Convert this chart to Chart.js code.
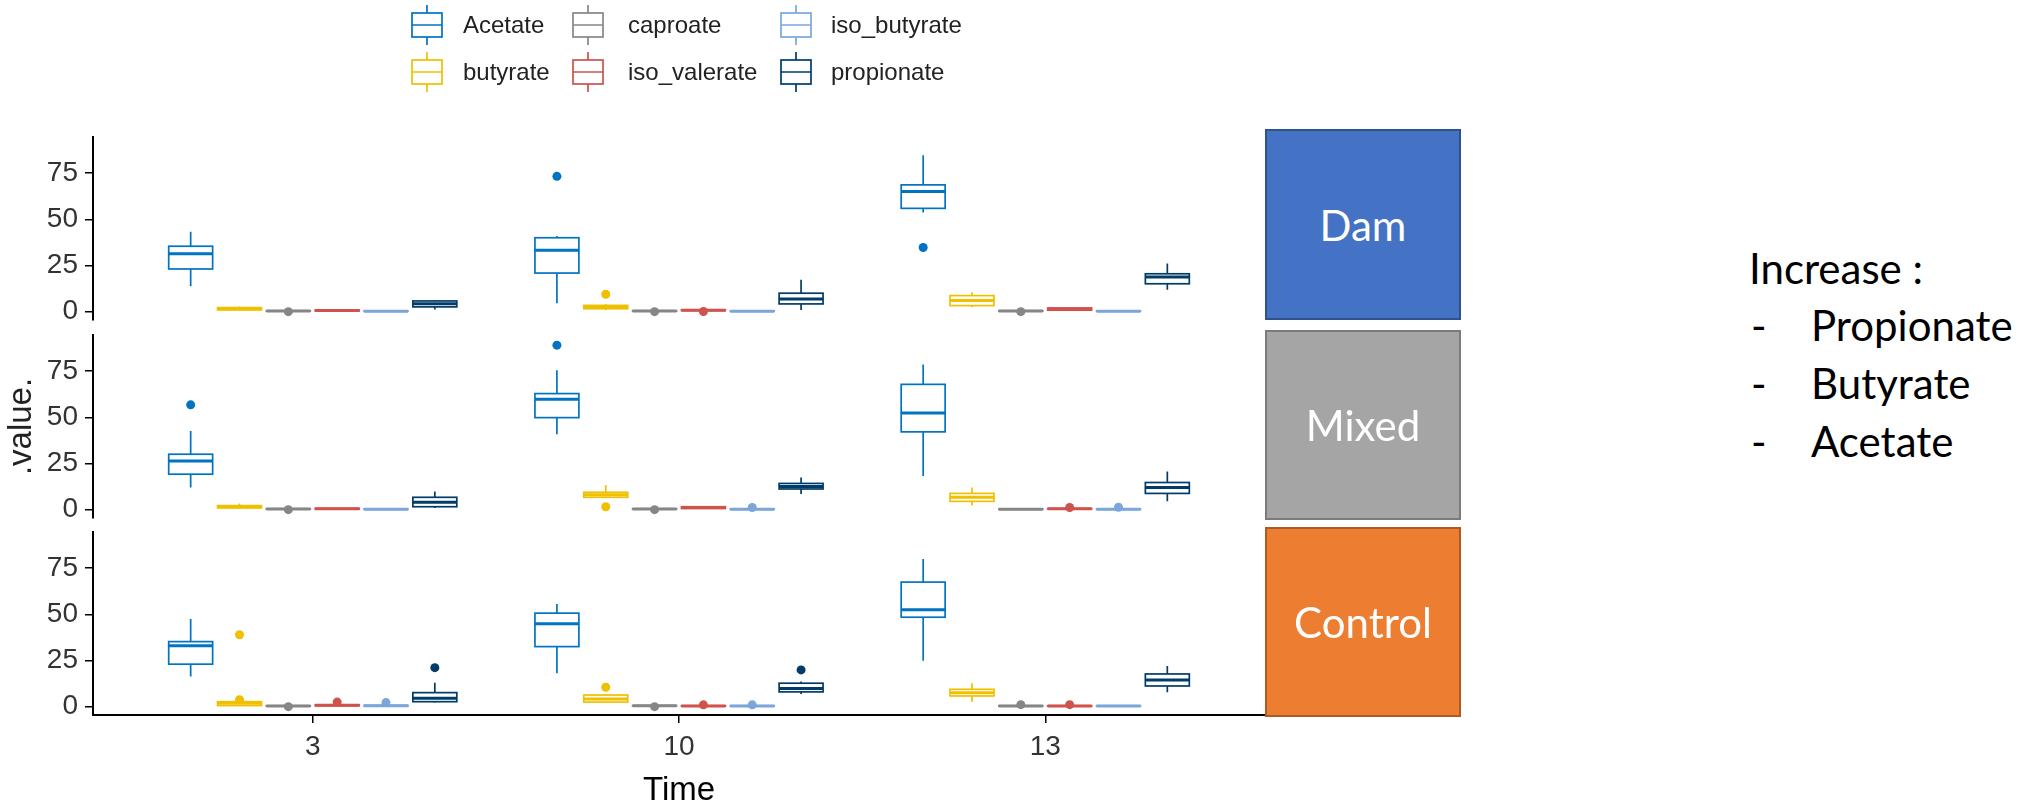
<!DOCTYPE html>
<html>
<head>
<meta charset="utf-8">
<script src="https://cdn.jsdelivr.net/npm/chart.js@4.4.1/dist/chart.umd.min.js"></script>
<style>
  html, body { margin: 0; padding: 0; background: #fff; }
  body { width: 2028px; height: 807px; position: relative; overflow: hidden; }
  canvas { position: absolute; left: 0; }
  .strip { position: absolute; left: 1265px; width: 196px; box-sizing: border-box; border: 2.5px solid;
           color: #fff; font-family: Lato, "Open Sans", sans-serif; font-size: 42px;
           display: flex; align-items: center; justify-content: center; }
  .note { position: absolute; font-family: Lato, "Open Sans", sans-serif; font-size: 42px; line-height: 42px;
          white-space: nowrap; color: #000; }
</style>
</head>
<body>
<canvas id="pDam" width="1280" height="344" style="top:0px"></canvas>
<canvas id="pMixed" width="1280" height="231" style="top:311px"></canvas>
<canvas id="pControl" width="1280" height="299" style="top:508px"></canvas>

<div class="strip" style="top:129px;height:191px;background:#4472C4;border-color:#2F528F">Dam</div>
<div class="strip" style="top:330px;height:190px;background:#A5A5A5;border-color:#7B7B7B">Mixed</div>
<div class="strip" style="top:527px;height:190px;background:#ED7D31;border-color:#AE5A21">Control</div>

<div class="note" style="left:1749px;top:247px">Increase :</div>
<div class="note" style="left:1751px;top:304px">-</div><div class="note" style="left:1811px;top:304px">Propionate</div>
<div class="note" style="left:1751px;top:362px">-</div><div class="note" style="left:1811px;top:362px">Butyrate</div>
<div class="note" style="left:1751px;top:420px">-</div><div class="note" style="left:1811px;top:420px">Acetate</div>

<script>
// ---- data ----
const times = ['3', '10', '13'];
const acids = ['Acetate', 'butyrate', 'caproate', 'iso_valerate', 'iso_butyrate', 'propionate'];
const acidColors = ['#0073C2', '#EFC000', '#868686', '#CD534C', '#7AA6DC', '#003C67'];
const yTicks = [0, 25, 50, 75];

// per time point, per acid: [lower whisker, Q1, median, Q3, upper whisker]
const damBoxes = [
  [[13.8, 23.1, 31.4, 35.4, 43.2], [0.6, 1.0, 1.5, 2.2, 2.8], [0.2, 0.3, 0.4, 0.5, 0.7], [0.2, 0.4, 0.6, 0.9, 1.1], [0.1, 0.2, 0.3, 0.4, 0.5], [1.2, 2.6, 4.3, 5.8, 6.2]],
  [[4.5, 20.9, 33.2, 40.0, 40.9], [0.8, 1.6, 2.5, 3.4, 4.0], [0.2, 0.3, 0.4, 0.5, 0.7], [0.4, 0.6, 0.8, 1.0, 1.2], [0.1, 0.2, 0.3, 0.4, 0.5], [0.9, 4.2, 6.9, 10.0, 17.3]],
  [[53.6, 55.9, 65.0, 68.6, 84.6], [2.4, 3.3, 6.0, 8.7, 10.5], [0.2, 0.3, 0.4, 0.5, 0.7], [0.6, 0.8, 1.4, 2.0, 2.3], [0.1, 0.2, 0.3, 0.4, 0.5], [11.8, 15.1, 18.7, 20.5, 26.0]]
];
const mixedBoxes = [
  [[12.0, 19.2, 26.4, 30.0, 42.6], [0.8, 1.0, 1.5, 2.2, 3.4], [0.2, 0.3, 0.4, 0.5, 0.7], [0.2, 0.3, 0.5, 0.7, 0.9], [0.1, 0.2, 0.3, 0.4, 0.5], [0.9, 1.6, 4.0, 6.7, 9.9]],
  [[40.8, 49.8, 59.7, 62.8, 75.4], [6.2, 6.7, 8.1, 9.4, 13.3], [0.2, 0.3, 0.4, 0.5, 0.7], [0.5, 0.7, 1.1, 1.6, 1.8], [0.1, 0.2, 0.3, 0.4, 0.5], [8.5, 11.2, 12.6, 14.2, 17.4]],
  [[18.2, 42.1, 52.3, 67.8, 78.6], [2.2, 4.5, 6.7, 8.8, 12.0], [0.1, 0.2, 0.3, 0.4, 0.5], [0.3, 0.4, 0.5, 0.6, 0.7], [0.1, 0.2, 0.3, 0.4, 0.5], [4.5, 8.8, 12.0, 14.7, 20.7]]
];
const controlBoxes = [
  [[16.3, 23.0, 32.9, 35.2, 47.4], [0.4, 0.6, 1.8, 2.7, 2.9], [0.2, 0.3, 0.4, 0.5, 0.7], [0.3, 0.5, 0.8, 1.0, 1.2], [0.2, 0.3, 0.5, 0.7, 0.9], [2.2, 2.7, 4.5, 7.6, 13.0]],
  [[18.1, 32.5, 44.8, 50.6, 55.5], [2.0, 2.5, 4.2, 6.3, 6.5], [0.3, 0.4, 0.5, 0.6, 0.8], [0.2, 0.3, 0.4, 0.5, 0.6], [0.2, 0.3, 0.4, 0.5, 0.6], [6.9, 8.0, 9.9, 12.7, 13.6]],
  [[24.9, 48.4, 52.4, 67.4, 79.9], [2.7, 5.8, 7.6, 9.4, 12.7], [0.2, 0.3, 0.4, 0.5, 0.7], [0.2, 0.3, 0.4, 0.5, 0.7], [0.2, 0.3, 0.4, 0.5, 0.7], [7.8, 11.2, 14.5, 17.7, 22.0]]
];

// outliers: [time index, acid index, value]
const damOutliers = [[0, 2, 0.0], [1, 0, 73.2], [1, 1, 9.4], [1, 2, 0.0], [1, 3, 0.1], [2, 0, 34.7], [2, 2, 0.0]];
const mixedOutliers = [[0, 0, 56.7], [0, 2, 0.0], [1, 0, 89.0], [1, 1, 1.6], [1, 2, 0.0], [1, 4, 1.2], [2, 3, 1.2], [2, 4, 1.3]];
const controlOutliers = [[0, 1, 38.9], [0, 1, 3.8], [0, 2, 0.0], [0, 3, 2.5], [0, 4, 2.2], [0, 5, 21.1],
  [1, 1, 10.5], [1, 2, 0.0], [1, 3, 1.0], [1, 4, 1.0], [1, 5, 19.9], [2, 2, 1.1], [2, 3, 1.1]];

// ---- drawing ----
const FONT = '"Liberation Sans", Arial, sans-serif';
const slot = 0.8 / acids.length;               // dodge width 0.8 split over the acids
const xOf = (t, a) => t + 1 + (a - (acids.length - 1) / 2) * slot;

function boxPlugin(boxes) {
  return {
    id: 'boxes',
    beforeDatasetsDraw(chart) {
      const {ctx, scales: {x, y}} = chart;
      const half = (x.getPixelForValue(slot * 0.9) - x.getPixelForValue(0)) / 2;
      ctx.save();
      boxes.forEach((row, t) => row.forEach((s, a) => {
        const cx = x.getPixelForValue(xOf(t, a));
        const [lo, q1, med, q3, hi] = s.map(v => y.getPixelForValue(v));
        ctx.strokeStyle = acidColors[a];
        ctx.lineWidth = 1.7;
        ctx.beginPath();
        ctx.moveTo(cx, lo); ctx.lineTo(cx, q1);
        ctx.moveTo(cx, q3); ctx.lineTo(cx, hi);
        ctx.stroke();
        ctx.fillStyle = '#fff';
        ctx.fillRect(cx - half, q3, half * 2, q1 - q3);
        ctx.strokeRect(cx - half, q3, half * 2, q1 - q3);
        ctx.lineWidth = 3;
        ctx.beginPath();
        ctx.moveTo(cx - half, med); ctx.lineTo(cx + half, med);
        ctx.stroke();
      }));
      ctx.restore();
    }
  };
}

// ggplot-style legend, 2 rows filled column by column
const legendPlugin = {
  id: 'boxLegend',
  afterDraw(chart) {
    const ctx = chart.ctx;
    const iconX = [427, 588, 796], textX = [463, 628, 831], rowY = [25, 72];
    ctx.save();
    ctx.font = '24px ' + FONT;
    ctx.textBaseline = 'middle';
    acids.forEach((name, a) => {
      const col = Math.floor(a / 2), row = a % 2;
      const cx = iconX[col], cy = rowY[row];
      ctx.strokeStyle = acidColors[a];
      ctx.lineWidth = 1.7;
      ctx.beginPath();
      ctx.moveTo(cx, cy - 20); ctx.lineTo(cx, cy - 12);
      ctx.moveTo(cx, cy + 12); ctx.lineTo(cx, cy + 20);
      ctx.moveTo(cx - 15, cy); ctx.lineTo(cx + 15, cy);
      ctx.stroke();
      ctx.strokeRect(cx - 15, cy - 12, 30, 24);
      ctx.fillStyle = '#222';
      ctx.fillText(name, textX[col], cy + 1);
    });
    ctx.restore();
  }
};

function makePanel(id, boxes, outliers, pad, showX, showYTitle, extraPlugins) {
  const datasets = acids.map((name, a) => ({
    label: name,
    data: outliers.filter(o => o[1] === a).map(o => ({x: xOf(o[0], a), y: o[2]})),
    backgroundColor: acidColors[a],
    borderWidth: 0,
    pointRadius: 4.5,
    pointHoverRadius: 4.5
  }));
  return new Chart(document.getElementById(id), {
    type: 'scatter',
    data: {datasets},
    options: {
      responsive: false,
      animation: false,
      devicePixelRatio: 1,
      events: [],
      layout: {padding: {top: pad[0], bottom: pad[1], left: 0, right: 15}},
      plugins: {legend: {display: false}, tooltip: {enabled: false}},
      scales: {
        x: {
          type: 'linear', min: 0.4, max: 3.6, display: showX,
          afterBuildTicks: s => { s.ticks = times.map((t, i) => ({value: i + 1})); },
          afterFit: s => { s.height = showX ? 92 : 0; },
          ticks: {callback: (v, i) => times[i], font: {family: FONT, size: 28}, color: '#333',
                  padding: 7, maxRotation: 0, autoSkip: false},
          grid: {drawOnChartArea: false, color: '#000', tickLength: 8, lineWidth: 1.5},
          border: {color: '#000', width: 2},
          title: {display: true, text: 'Time', color: '#000', padding: {top: 0, bottom: 0},
                  font: {family: FONT, size: 33, lineHeight: 1}}
        },
        y: {
          min: -4.5, max: 94.5,
          afterBuildTicks: s => { s.ticks = yTicks.map(v => ({value: v})); },
          afterFit: s => { s.width = 93; },
          ticks: {font: {family: FONT, size: 28}, color: '#333', padding: 7, autoSkip: false},
          grid: {drawOnChartArea: false, color: '#000', tickLength: 8, lineWidth: 1.5},
          border: {color: '#000', width: 2},
          title: {display: showYTitle, text: '.value.', color: '#222', padding: {top: 5, bottom: 0},
                  font: {family: FONT, size: 33, lineHeight: 1}}
        }
      }
    },
    plugins: [boxPlugin(boxes)].concat(extraPlugins || [])
  });
}

makePanel('pDam', damBoxes, damOutliers, [137, 24], false, false, [legendPlugin]);
makePanel('pMixed', mixedBoxes, mixedOutliers, [24, 24], false, true);
makePanel('pControl', controlBoxes, controlOutliers, [24, 0], true, false);
</script>
</body>
</html>
